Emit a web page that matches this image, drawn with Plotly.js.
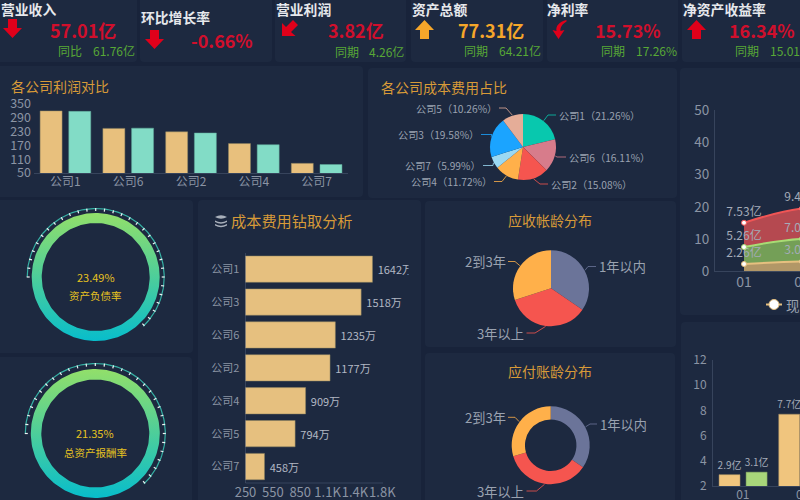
<!DOCTYPE html>
<html><head><meta charset="utf-8">
<script src="https://cdn.plot.ly/plotly-3.0.1.min.js"></script>
<style>html,body{margin:0;padding:0;width:800px;height:500px;overflow:hidden;background:#18233a}#c{width:900px;height:520px}</style>
</head><body><div id="c"></div>
<script>
// ---------- data ----------
const profitCompanies = ['公司1','公司6','公司2','公司4','公司7'];
const profitA = [320,244,229,178,92];
const profitB = [318,245,224,173,87];
const profitTicks = [50,110,170,230,290,350];

const costPieLabels = ['公司1','公司6','公司2','公司4','公司7','公司3','公司5'];
const costPieValues = [21.26,16.11,15.08,11.72,5.99,19.58,10.26];
const costPieColors = ['#08c8ae','#d77c8b','#f5554f','#ffb04a','#9bd9f3','#1ba4ff','#e5ad98'];

const drillCompanies = ['公司1','公司3','公司6','公司2','公司4','公司5','公司7'];
const drillValues = [1642,1518,1235,1177,909,794,458];
const drillTickVals = [250,550,850,1150,1450,1750];
const drillTickText = ['250','550','850','1.1K','1.4K','1.8K'];

const ageLabels = ['1年以内','3年以上','2到3年'];
const receivableAge = [34.5,35.5,30];
const payableAge = [34.5,36,29.5];
const ageColors = ['#6b7499','#f5554f','#ffb04a'];

const gaugeValues = ['23.49%','21.35%'];
const gaugeNames = ['资产负债率','总资产报酬率'];

const months = ['01','02','03'];
const areaBottom = [2.26,3.03,3.0];
const areaMiddle = [5.26,7.02,6.2];
const areaTop = [7.53,9.41,9.3];
const areaTicks = [0,10,20,30,40,50];

const barMonths = ['01','02'];
const barOrange = [2.9,7.7];
const barGreenMonths = ['01'];
const barGreen = [3.1];
const barTicks = [2,4,6,8,10,12];

const kpiTitles = ['营业收入','环比增长率','营业利润','资产总额','净利率','净资产收益率'];
const kpiValues = ['57.01亿','-0.66%','3.82亿','77.31亿','15.73%','16.34%'];
const kpiCompareLabels = ['同比','','同期','同期','同期','同期'];
const kpiCompareValues = ['61.76亿','','4.26亿','64.21亿','17.26%','15.01%'];

// ---------- layout helpers ----------
const W=900,H=520;
const dx=(a,b)=>[a/W,b/W];
const dy=(t,b)=>[1-b/H,1-t/H];
const RED='#d00f2c',ARROW='#e0001a',ORANGE='#f5a62a',GREEN='#58a836',TITLE='#d79a38',AXIS='#8b94a4',LAB='#9aa2b0',PANEL='#1d2940';
const FONT='"Noto Sans CJK SC","Noto Sans",sans-serif';
const faint='rgba(150,165,190,0.22)';

function roundRect(x0,y0,x1,y1,r){return `M${x0+r},${y0} L${x1-r},${y0} Q${x1},${y0} ${x1},${y0+r} L${x1},${y1-r} Q${x1},${y1} ${x1-r},${y1} L${x0+r},${y1} Q${x0},${y1} ${x0},${y1-r} L${x0},${y0+r} Q${x0},${y0} ${x0+r},${y0} Z`;}
const panels=[[-10,-10,137,62],[140,-10,272,62],[275,-10,406,62],[411,-10,543,62],[547,-10,678,62],[682,-10,890,62],
[-10,66,363,197],[368,68,677,198],[680,68,890,315],[681,322,890,530],
[-10,200,193,353],[-10,357,192,530],[198,200,421,530],[425,201,676,347],[425,353,675,530]];
const shapes=panels.map(p=>({type:'path',xref:'x',yref:'y',layer:'below',path:roundRect(p[0],p[1],p[2],p[3],4),fillcolor:PANEL,line:{width:0}}));
shapes.push({type:'line',xref:'x',yref:'y',layer:'below',x0:245.5,x1:383,y0:483,y1:483,line:{color:faint,width:1}});
function poly(d,c){shapes.push({type:'path',xref:'x',yref:'y',layer:'above',path:d,fillcolor:c,line:{width:0}});}
const blockDown=(x,y)=>`M${x+5},${y} L${x+14},${y} L${x+14},${y+9} L${x+19},${y+9} L${x+9.5},${y+19} L${x},${y+9} L${x+5},${y+9} Z`;
const blockUp=(x,y)=>`M${x+5},${y+19} L${x+14},${y+19} L${x+14},${y+10} L${x+19},${y+10} L${x+9.5},${y} L${x},${y+10} L${x+5},${y+10} Z`;
poly(blockDown(3,19),ARROW);
poly(blockDown(145,30),ARROW);
poly('M282,36 L282,23 L286,27 L293,20 L298,25 L291,32 L295.5,36 Z',ARROW);
poly(blockUp(415,20),ORANGE);
poly('M566.5,20 C559,22 555.5,26 556.5,31 L552.5,30 L558.5,39 L564.5,30 L560.5,31 C560,27 562.5,24 566.5,21.5 Z',ARROW);
poly(blockUp(687,20),ARROW);
['M215,217 Q221,213.5 227,217 Q221,220.5 215,217 Z','M215,220.5 Q221,224 227,220.5 L227,222 Q221,225.5 215,222 Z','M215,224 Q221,227.5 227,224 L227,225.5 Q221,229 215,225.5 Z']
 .forEach(d=>poly(d,'#a9b0bb'));

const ann=[];
function txt(x,y,t,size,color,anchor,bold){ann.push({xref:'x',yref:'y',x:x,y:y,text:bold?`<b>${t}</b>`:t,showarrow:false,xanchor:anchor||'left',yanchor:'middle',font:{family:FONT,size:size,color:color},borderpad:0,borderwidth:0});}

const kpiPos=[[0.5,9,50,30,58,93,50],[141,17,191,40],[276,9,328,30,335,369,51],[412,9,458,30,464,499,50],[547,9,595,30,601,636,50],[683,9,729,30,735,770,50]];
kpiTitles.forEach((t,i)=>{const p=kpiPos[i];
 txt(p[0],p[1],t,13.8,'#e6e8ec','left',true);
 txt(p[2],p[3],kpiValues[i],18,i===3?ORANGE:RED,'left',true);
 if(kpiCompareLabels[i]){txt(p[4],p[6],kpiCompareLabels[i],12,GREEN);txt(p[5],p[6],kpiCompareValues[i],12,GREEN);}
});
txt(11,86,'各公司利润对比',14,TITLE);
txt(381,87,'各公司成本费用占比',14,TITLE);
txt(231,220,'成本费用钻取分析',15.2,TITLE);
txt(550,220,'应收帐龄分布',14,TITLE,'center');
txt(550,371,'应付账龄分布',14,TITLE,'center');

const traces=[];
function pie(labels,values,colors,cx,cy,r,hole,leaders,size,fmt){
 traces.push({type:'pie',labels:labels,values:values,sort:false,direction:'clockwise',rotation:0,hole:hole,textinfo:'none',hoverinfo:'skip',
  marker:{colors:colors,line:{width:0}},domain:{x:dx(cx-r,cx+r),y:dy(cy-r,cy+r)},showlegend:false});
 const tot=values.reduce((a,b)=>a+b,0);let acc=0;
 values.forEach((v,i)=>{const a=(acc+v/2)/tot*2*Math.PI;acc+=v;
  const sx=cx+(r+0.5)*Math.sin(a),sy=cy-(r+0.5)*Math.cos(a);
  const right=Math.sin(a)>=0,[ex,ey,len]=leaders[i];
  const hx=ex+(right?len:-len);
  traces.push({type:'scatter',mode:'lines',xaxis:'x',yaxis:'y',x:[sx,ex,hx],y:[sy,ey,ey],line:{color:colors[i],width:1},hoverinfo:'skip',showlegend:false,opacity:0.8});
  txt(hx+(right?2.5:-2.5),ey,fmt(labels[i],v),size,LAB,right?'left':'right');
 });
}
pie(costPieLabels,costPieValues,costPieColors,523,147,33,0,
 [[548,115,8],[557,157,9],[540,184,8],[502,181.5,8],[493,165.5,10],[492,134.5,11],[506,108,7]],10.2,(l,v)=>`${l}（${v.toFixed(2)}%）`);
pie(ageLabels,receivableAge,ageColors,551,288.3,38,0,[[588,266.5,8],[535,333,8.5],[515,261.5,7]],13.2,(l)=>l);
pie(ageLabels,payableAge,ageColors,550.7,445.3,39,0.66,[[590,424,7],[536.5,491,10],[515,417.3,7]],13.2,(l)=>l);

function gauge(cx,cy,R,rIn,rArc,val,name,ty){
 const xs=[],ys=[];const N=180;
 for(let i=0;i<=N;i++){const a=i/N*2*Math.PI;xs.push(cx+R*Math.cos(a));ys.push(cy+R*Math.sin(a));}
 for(let i=N;i>=0;i--){const a=i/N*2*Math.PI;xs.push(cx+rIn*Math.cos(a));ys.push(cy+rIn*Math.sin(a));}
 traces.push({type:'scatter',mode:'lines',xaxis:'x',yaxis:'y',x:xs,y:ys,fill:'toself',line:{width:0},fillcolor:'#4fd0a0',
   fillgradient:{type:'vertical',colorscale:[[0,'#08bdcb'],[1,'#92df6a']]},hoverinfo:'skip',showlegend:false});
 const ax=[],ay=[],tx=[],ty2=[];
 const a0=180,a1=180+226;
 for(let d=a0;d<=a1;d+=2){const a=d*Math.PI/180;ax.push(cx+rArc*Math.cos(a));ay.push(cy+rArc*Math.sin(a));}
 for(let d=a0;d<=a1;d+=7.5){const a=d*Math.PI/180;tx.push(cx+(rArc+0.5)*Math.cos(a),cx+(rArc-2.5)*Math.cos(a),null);ty2.push(cy+(rArc+0.5)*Math.sin(a),cy+(rArc-2.5)*Math.sin(a),null);}
 traces.push({type:'scatter',mode:'lines',xaxis:'x',yaxis:'y',x:ax,y:ay,line:{color:'#35b0a4',width:1.2},hoverinfo:'skip',showlegend:false});
 traces.push({type:'scatter',mode:'lines',xaxis:'x',yaxis:'y',x:tx,y:ty2,line:{color:'#eef5f4',width:1.2},hoverinfo:'skip',showlegend:false});
 txt(cx,cy-.5,val,11,'#e6c220','center');
 txt(cx,ty,name,10.5,'#e6c220','center');
}
gauge(95.7,277,64,54,68.5,gaugeValues[0],gaugeNames[0],295);
gauge(95.3,433.5,64.5,54,70,gaugeValues[1],gaugeNames[1],452);

const bar1Common={type:'bar',xaxis:'x2',yaxis:'y2',x:profitCompanies,width:0.35,hoverinfo:'skip',showlegend:false};
traces.push(Object.assign({},bar1Common,{y:profitA,offset:-0.403,marker:{color:'#e8c07d',line:{color:'#8f8460',width:0.5}}}));
traces.push(Object.assign({},bar1Common,{y:profitB,offset:0.054,marker:{color:'#82dcc6',line:{color:'#5fa898',width:0.5}}}));

traces.push({type:'bar',orientation:'h',xaxis:'x3',yaxis:'y3',y:drillCompanies,x:drillValues,width:0.8,
 marker:{color:'#e6c07f',line:{color:'#8f8460',width:0.5}},text:drillValues.map(v=>'\u2009'+v+'万'),textposition:'outside',cliponaxis:true,constraintext:'none',
 textfont:{family:FONT,size:11,color:'#b2b8c4'},hoverinfo:'skip',showlegend:false});

[[areaBottom,'#e6c07f','rgba(228,188,116,0.75)'],[areaMiddle,'#a8dc74','rgba(150,205,96,0.72)'],[areaTop,'#f05555','rgba(232,84,86,0.75)']].forEach(s=>{
 traces.push({type:'scatter',mode:'lines+markers+text',xaxis:'x4',yaxis:'y4',x:months,y:s[0],stackgroup:'a',fillcolor:s[2],
  line:{color:s[1],width:2,shape:'spline'},marker:{color:'#fff',size:5,line:{color:s[1],width:1}},
  text:s[0].map(v=>v.toFixed(2)+'亿'),textposition:'top center',textfont:{family:FONT,size:12,color:'#a4abb8'},cliponaxis:false,hoverinfo:'skip',showlegend:false});
});
traces.push({type:'scatter',mode:'lines',xaxis:'x',yaxis:'y',x:[766,782],y:[304.5,304.5],line:{color:'#e6c07f',width:2},hoverinfo:'skip',showlegend:false});
traces.push({type:'scatter',mode:'markers',xaxis:'x',yaxis:'y',x:[774],y:[304.5],marker:{color:'#fff',size:10,line:{color:'#e6c07f',width:1}},hoverinfo:'skip',showlegend:false});
txt(786,305,'现金',13.5,LAB);

const rbText=a=>a.map(v=>v.toFixed(1)+'亿');
traces.push({type:'bar',xaxis:'x5',yaxis:'y5',x:barMonths,y:barOrange,width:0.352,offset:-0.399,marker:{color:'#f0c57e',line:{color:'#9f8a60',width:0.5}},text:rbText(barOrange),textposition:'outside',cliponaxis:false,constraintext:'none',textfont:{family:FONT,size:10,color:'#a4abb8'},hoverinfo:'skip',showlegend:false});
traces.push({type:'bar',xaxis:'x5',yaxis:'y5',x:barGreenMonths,y:barGreen,width:0.352,offset:0.054,marker:{color:'#a8d67a',line:{color:'#7ea05e',width:0.5}},text:rbText(barGreen),textposition:'outside',cliponaxis:false,constraintext:'none',textfont:{family:FONT,size:10,color:'#a4abb8'},hoverinfo:'skip',showlegend:false});

const hidden={visible:false,fixedrange:true};
const tick=(s)=>({family:FONT,size:s,color:AXIS});
const layout={
 width:W,height:H,margin:{l:0,r:0,t:0,b:0,pad:0},paper_bgcolor:'#18233a',plot_bgcolor:'rgba(0,0,0,0)',showlegend:false,autosize:false,
 barmode:'overlay',shapes:shapes,annotations:ann,
 xaxis:Object.assign({domain:[0,1],range:[0,W]},hidden),
 yaxis:Object.assign({domain:[0,1],range:[H,0]},hidden),
 xaxis2:{domain:dx(34,348),anchor:'y2',type:'category',categoryorder:'array',categoryarray:profitCompanies,range:[-0.5,4.5],tickfont:tick(12),showgrid:false,showline:true,linecolor:faint,ticks:'',zeroline:false,fixedrange:true,ticklabelstandoff:-2},
 yaxis2:{domain:dy(104,173),anchor:'x2',range:[50,350],tickvals:profitTicks,tickfont:tick(12.5),showgrid:false,showline:false,zeroline:false,ticks:'',fixedrange:true,ticklabelstandoff:2},
 xaxis3:{domain:dx(245.5,408.5),anchor:'y3',range:[250,250+163/0.0912],tickvals:drillTickVals,ticktext:drillTickText,tickangle:0,tickfont:tick(13),showgrid:false,showline:false,zeroline:false,ticks:'',fixedrange:true},
 yaxis3:{domain:dy(252.7,483),anchor:'x3',type:'category',categoryorder:'array',categoryarray:drillCompanies,autorange:'reversed',tickfont:tick(11),showgrid:false,showline:true,linecolor:faint,ticks:'',fixedrange:true,ticklabelstandoff:3},
 xaxis4:{domain:dx(715,900),anchor:'y4',type:'category',categoryorder:'array',categoryarray:months,range:[-0.5,-0.5+185/58],tickfont:tick(14),showgrid:false,showline:true,linecolor:faint,ticks:'',zeroline:false,fixedrange:true,ticklabelstandoff:-2},
 yaxis4:{domain:dy(110,271.3),anchor:'x4',range:[0,50],tickvals:areaTicks,tickfont:tick(13.5),showgrid:false,showline:true,linecolor:faint,zeroline:false,ticks:'',fixedrange:true,ticklabelstandoff:2},
 xaxis5:{domain:dx(713,900),anchor:'y5',type:'category',categoryorder:'array',categoryarray:barMonths,range:[-0.5,-0.5+187/59.7],tickfont:tick(12),showgrid:false,showline:true,linecolor:faint,ticks:'',zeroline:false,fixedrange:true,ticklabelstandoff:-2},
 yaxis5:{domain:dy(360,486),anchor:'x5',range:[2,12],tickvals:barTicks,tickfont:tick(12),showgrid:false,showline:true,linecolor:faint,zeroline:false,ticks:'',fixedrange:true,ticklabelstandoff:3},
 font:{family:FONT}
};
Plotly.newPlot('c',traces,layout,{displayModeBar:false,staticPlot:true});
</script></body></html>
